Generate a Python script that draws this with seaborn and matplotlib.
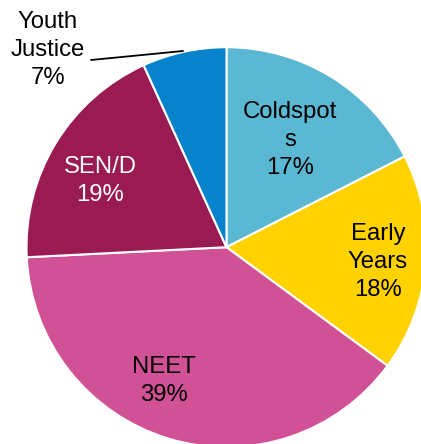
import matplotlib
matplotlib.use("Agg")
import matplotlib.pyplot as plt
import seaborn as sns

categories = ["Coldspots", "Early Years", "NEET", "SEN/D", "Youth Justice"]
values = [17.5, 17.6, 39.1, 19.0, 6.8]
label_texts = ["Coldspot\ns\n17%", "Early\nYears\n18%", "NEET\n39%", "SEN/D\n19%", "Youth\nJustice\n7%"]
colors = ["#5BB8D2", "#FFD200", "#D05196", "#9A1A52", "#0683CB"]
text_colors = ["black", "black", "black", "white", "black"]

sns.set_theme(style="white")
plt.rcParams['font.family'] = ['Liberation Sans', 'DejaVu Sans']

W, H = 421, 444
fig = plt.figure(figsize=(W / 100, H / 100), dpi=100)
ax = fig.add_axes([0, 0, 1, 1])

cx, cy, r = 226.5, H - 247.2, 200
wedges, _ = ax.pie(values, colors=sns.color_palette(colors), startangle=90, counterclock=False,
                   center=(cx, cy), radius=r, frame=True,
                   wedgeprops=dict(edgecolor="white", linewidth=1.5))
ax.set_xlim(0, W)
ax.set_ylim(0, H)
ax.set_aspect('equal')
ax.axis('off')

label_pos = [(290, 140), (378, 262), (164, 381), (100, 181), (48, 50)]
for (x, y), t, c in zip(label_pos, label_texts, text_colors):
    ax.text(x, H - y, t, ha='center', va='center', fontsize=17.2, color=c, linespacing=1.33)

ax.plot([91, 183], [H - 60, H - 51], color='black', linewidth=1.3)

fig.savefig("out.png", dpi=100)
